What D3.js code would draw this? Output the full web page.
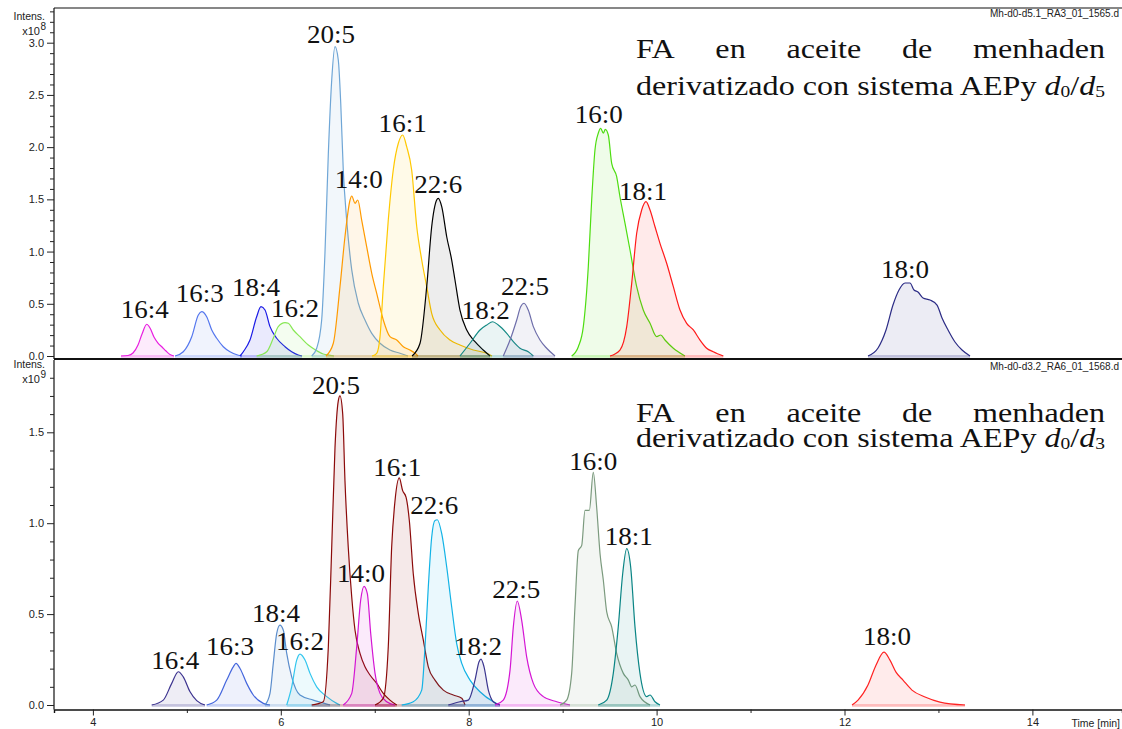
<!DOCTYPE html>
<html>
<head>
<meta charset="utf-8">
<script src="https://cdn.jsdelivr.net/npm/d3@7"></script>
<style>
  html, body { margin: 0; padding: 0; background: #fff; }
  svg { display: block; }
</style>
</head>
<body>
<svg id="chart" width="1122" height="729"></svg>
<script>
// ---- axis ticks -------------------------------------------------------
const timeTicks = [4, 6, 8, 10, 12, 14];
const timeMinorTicks = [5, 7, 9, 11, 13];
const topIntensTicks = [0, 0.5, 1.0, 1.5, 2.0, 2.5, 3.0];
const bottomIntensTicks = [0, 0.5, 1.0, 1.5];

const topFile = "Mh-d0-d5.1_RA3_01_1565.d";
const bottomFile = "Mh-d0-d3.2_RA6_01_1568.d";

// ---- upper chromatogram (AEPy d0/d5), intensity x10^8 -------------------
const topNames = ["16:4", "16:3", "18:4", "16:2", "20:5", "14:0", "16:1", "22:6", "18:2", "22:5", "16:0", "18:1", "18:0"];
const topColors = ["#e81ee0", "#5577ee", "#1a1ae6", "#88e855", "#6fa6d6", "#ff9a00", "#ffc800", "#000000", "#138a84", "#6e6eaa", "#4ddd10", "#ff1a1a", "#2b2b85"];
const topTraces = [
  [[4.299,0],[4.374,0.005],[4.427,0.029],[4.480,0.105],[4.523,0.211],[4.573,0.304],[4.608,0.268],[4.650,0.182],[4.693,0.124],[4.736,0.086],[4.778,0.048],[4.821,0.014],[4.863,0]],
  [[4.874,0],[4.962,0.041],[5.052,0.185],[5.122,0.393],[5.158,0.424],[5.211,0.376],[5.265,0.249],[5.318,0.170],[5.388,0.089],[5.459,0.041],[5.548,0.007],[5.587,0]],
  [[5.566,0],[5.601,0.041],[5.672,0.153],[5.743,0.376],[5.789,0.472],[5.832,0.440],[5.885,0.281],[5.956,0.170],[6.045,0.089],[6.116,0.041],[6.186,0.010],[6.226,0]],
  [[5.743,0],[5.850,0.041],[5.920,0.170],[5.973,0.281],[6.045,0.319],[6.080,0.313],[6.133,0.249],[6.204,0.185],[6.293,0.105],[6.382,0.051],[6.452,0.019],[6.524,0.007],[6.566,0]],
  [[6.329,0],[6.382,0.074],[6.435,0.345],[6.470,0.983],[6.506,1.941],[6.542,2.643],[6.577,2.962],[6.612,2.834],[6.638,2.420],[6.665,1.781],[6.701,1.302],[6.755,0.824],[6.825,0.505],[6.896,0.345],[6.968,0.217],[7.056,0.122],[7.162,0.057],[7.269,0.026],[7.354,0]],
  [[6.481,0],[6.559,0.122],[6.630,0.664],[6.683,1.142],[6.737,1.494],[6.755,1.532],[6.790,1.462],[6.819,1.494],[6.861,1.302],[6.914,1.047],[6.968,0.792],[7.021,0.600],[7.091,0.345],[7.162,0.185],[7.234,0.153],[7.304,0.089],[7.375,0.057],[7.428,0.026],[7.460,0]],
  [[6.971,0],[7.021,0.026],[7.056,0.185],[7.091,0.664],[7.144,1.302],[7.197,1.781],[7.251,2.037],[7.297,2.116],[7.340,2.004],[7.393,1.781],[7.447,1.238],[7.500,0.919],[7.553,0.664],[7.606,0.409],[7.695,0.249],[7.801,0.153],[7.907,0.105],[8.049,0.057],[8.192,0.026],[8.248,0]],
  [[7.397,0],[7.482,0.122],[7.553,0.664],[7.606,1.238],[7.659,1.494],[7.676,1.510],[7.713,1.430],[7.766,1.142],[7.819,0.919],[7.854,0.728],[7.907,0.440],[7.979,0.249],[8.067,0.137],[8.155,0.057],[8.227,0]],
  [[7.907,0],[8.014,0.122],[8.120,0.249],[8.192,0.297],[8.255,0.328],[8.315,0.297],[8.405,0.217],[8.475,0.137],[8.546,0.074],[8.634,0.041],[8.688,0]],
  [[8.368,0],[8.440,0.153],[8.511,0.345],[8.553,0.472],[8.589,0.505],[8.634,0.440],[8.688,0.281],[8.759,0.153],[8.830,0.074],[8.919,0]],
  [[9.096,0],[9.167,0.089],[9.220,0.281],[9.273,0.855],[9.309,1.494],[9.344,1.973],[9.379,2.133],[9.405,2.180],[9.433,2.133],[9.454,2.171],[9.486,2.116],[9.522,1.845],[9.575,1.717],[9.610,1.525],[9.664,1.271],[9.717,1.015],[9.788,0.664],[9.858,0.440],[9.930,0.313],[10.001,0.185],[10.044,0.201],[10.089,0.153],[10.178,0.074],[10.302,0]],
  [[9.504,0],[9.610,0.057],[9.682,0.281],[9.735,0.696],[9.788,1.175],[9.841,1.398],[9.887,1.478],[9.930,1.398],[9.983,1.238],[10.036,1.079],[10.107,0.888],[10.178,0.664],[10.249,0.440],[10.320,0.313],[10.391,0.249],[10.462,0.153],[10.533,0.074],[10.603,0.041],[10.710,0]],
  [[12.250,0],[12.357,0.077],[12.442,0.249],[12.516,0.488],[12.580,0.632],[12.644,0.699],[12.697,0.699],[12.740,0.632],[12.782,0.613],[12.836,0.555],[12.910,0.536],[12.985,0.488],[13.038,0.364],[13.102,0.249],[13.176,0.134],[13.251,0.057],[13.336,0]]
];

// ---- lower chromatogram (AEPy d0/d3), intensity x10^9 -------------------
const bottomNames = ["16:4", "16:3", "18:4", "16:2", "20:5", "14:0", "16:1", "22:6", "18:2", "22:5", "16:0", "18:1", "18:0"];
const bottomColors = ["#3d3490", "#4466dd", "#5b8dcc", "#33c6ee", "#8b0a0a", "#d415d4", "#8b0a0a", "#12b3e6", "#3b358f", "#d415d4", "#7b9a7e", "#0a8585", "#ff2222"];
const bottomTraces = [
  [[4.626,0],[4.749,0.027],[4.839,0.119],[4.909,0.183],[4.962,0.155],[5.034,0.073],[5.105,0.024],[5.193,0]],
  [[5.211,0],[5.318,0.027],[5.424,0.137],[5.494,0.210],[5.523,0.229],[5.566,0.201],[5.637,0.119],[5.707,0.055],[5.814,0.009],[5.885,0]],
  [[5.832,0],[5.885,0.064],[5.920,0.229],[5.956,0.393],[5.991,0.439],[6.027,0.411],[6.063,0.284],[6.116,0.155],[6.204,0.055],[6.346,0.027],[6.489,0.005],[6.524,0]],
  [[6.063,0],[6.116,0.100],[6.169,0.247],[6.204,0.280],[6.258,0.247],[6.311,0.174],[6.382,0.100],[6.489,0.046],[6.595,0.009],[6.630,0]],
  [[6.329,0],[6.452,0.018],[6.506,0.320],[6.542,0.868],[6.577,1.417],[6.612,1.673],[6.630,1.700],[6.659,1.600],[6.683,1.234],[6.718,0.868],[6.755,0.594],[6.790,0.411],[6.843,0.284],[6.896,0.210],[6.949,0.165],[7.021,0.119],[7.091,0.064],[7.162,0.027],[7.234,0]],
  [[6.665,0],[6.755,0.064],[6.808,0.320],[6.850,0.576],[6.886,0.653],[6.921,0.613],[6.957,0.393],[7.003,0.174],[7.056,0.064],[7.127,0.018],[7.216,0]],
  [[7.003,0],[7.091,0.037],[7.144,0.320],[7.180,0.868],[7.216,1.125],[7.261,1.249],[7.297,1.179],[7.333,1.143],[7.368,1.015],[7.410,0.722],[7.464,0.503],[7.517,0.357],[7.570,0.210],[7.641,0.137],[7.730,0.082],[7.836,0.055],[7.926,0.037],[7.961,0]],
  [[7.287,0],[7.410,0.018],[7.500,0.082],[7.535,0.320],[7.570,0.649],[7.606,0.923],[7.641,1.015],[7.666,1.019],[7.713,0.942],[7.766,0.759],[7.819,0.539],[7.872,0.338],[7.926,0.229],[8.014,0.137],[8.120,0.073],[8.262,0.018],[8.333,0]],
  [[7.783,0],[7.907,0.018],[7.996,0.027],[8.067,0.137],[8.110,0.238],[8.131,0.252],[8.163,0.210],[8.209,0.082],[8.262,0.018],[8.333,0]],
  [[8.280,0],[8.368,0.027],[8.440,0.192],[8.475,0.430],[8.517,0.572],[8.564,0.466],[8.617,0.265],[8.688,0.119],[8.794,0.046],[8.937,0.018],[9.078,0]],
  [[8.972,0],[9.043,0.027],[9.096,0.174],[9.131,0.539],[9.167,0.850],[9.203,0.878],[9.238,1.070],[9.284,1.070],[9.326,1.280],[9.362,1.088],[9.398,0.832],[9.433,0.686],[9.469,0.512],[9.522,0.430],[9.575,0.284],[9.646,0.174],[9.699,0.137],[9.735,0.100],[9.770,0.110],[9.823,0.046],[9.930,0]],
  [[9.379,0],[9.469,0.027],[9.539,0.174],[9.592,0.430],[9.639,0.722],[9.682,0.860],[9.724,0.759],[9.770,0.430],[9.823,0.174],[9.895,0.046],[9.930,0.055],[9.983,0.018],[10.036,0]],
  [[12.080,0],[12.144,0.027],[12.250,0.110],[12.335,0.219],[12.420,0.291],[12.484,0.247],[12.548,0.181],[12.623,0.137],[12.718,0.082],[12.857,0.044],[13.016,0.016],[13.283,0]]
];

// ---- layout -----------------------------------------------------------
const plotLeft = 54, plotRight = 1122;
const topPanel = { top: 8, zero: 356, divider: 359 };
const bottomPanel = { top: 360, zero: 705, axis: 709.5 };

// pixel nudges of each peak label from its apex (dx, dy)
const topLabelNudge = [[-2,-6],[-2,-10],[-5,-11],[10,-6],[-4,-4],[7,-8],[0,-3],[0,-5],[-7,-3],[1,-8],[-2,-5],[-3,-2],[0,-5]];
const bottomLabelNudge = [[-3,-3],[-6,-8],[-4,-3],[0,-4],[-4,-2],[-3,-4],[-2,-2],[-3,-6],[-3,-4],[-1,-3],[0,-2],[2,-4],[3,-7]];

const svg = d3.select("#chart");

// time scale: calibrated on the 4 and 14 min ticks, then stretched to the frame
const x0 = d3.scaleLinear().domain([4, 14]).range([92.9, 1032.4]);
const x = d3.scaleLinear()
  .domain([x0.invert(plotLeft), x0.invert(plotRight)])
  .range([plotLeft, plotRight]);

const yTop0 = d3.scaleLinear().domain([0, 3]).range([topPanel.zero, 42.7]);
const yTop = d3.scaleLinear()
  .domain([0, yTop0.invert(topPanel.top)])
  .range([topPanel.zero, topPanel.top]);

const yBot0 = d3.scaleLinear().domain([0, 1.5]).range([bottomPanel.zero, 432.3]);
const yBot = d3.scaleLinear()
  .domain([0, yBot0.invert(bottomPanel.top)])
  .range([bottomPanel.zero, bottomPanel.top]);

const sansFont = "'Liberation Sans', Arial, sans-serif";
const serifFont = "'Liberation Serif', 'Times New Roman', serif";

// ---- traces -----------------------------------------------------------
function drawTraces(g, traces, colors, names, nudges, y) {
  const area = d3.area()
    .x(d => x(d[0])).y0(y(0)).y1(d => y(d[1]))
    .curve(d3.curveMonotoneX);
  const line = d3.line()
    .x(d => x(d[0])).y(d => y(d[1]))
    .curve(d3.curveMonotoneX);

  traces.forEach((tr, i) => {
    const c = colors[i];
    const pg = g.append("g").attr("class", "peak");
    pg.append("path").attr("d", area(tr))
      .attr("fill", c).attr("fill-opacity", c === "#000000" ? 0.07 : 0.09)
      .attr("stroke", "none");
    // faint baseline strip under each trace
    pg.append("line")
      .attr("x1", x(tr[0][0])).attr("x2", x(tr[tr.length - 1][0]))
      .attr("y1", y(0) + 0.5).attr("y2", y(0) + 0.5)
      .attr("stroke", c).attr("stroke-opacity", c === "#000000" ? 0.25 : 0.3)
      .attr("stroke-width", 2.5);
    pg.append("path").attr("d", line(tr))
      .attr("fill", "none").attr("stroke", c)
      .attr("stroke-width", 1.2).attr("stroke-linejoin", "round");
  });

  // peak labels at each apex
  traces.forEach((tr, i) => {
    const apex = tr.reduce((a, b) => (b[1] > a[1] ? b : a));
    const t = g.append("text")
      .attr("x", x(apex[0]) + nudges[i][0])
      .attr("y", y(apex[1]) + nudges[i][1])
      .attr("text-anchor", "middle")
      .attr("font-family", serifFont)
      .attr("font-size", 26)
      .attr("fill", "#111")
      .text(names[i]);
    const w = t.node().getComputedTextLength();
    t.attr("textLength", w * 1.04).attr("lengthAdjust", "spacingAndGlyphs");
  });
}

// ---- y axes -----------------------------------------------------------
function drawYAxis(y, majors, maxVal, exponent, labelTop) {
  const g = svg.append("g").attr("transform", `translate(${plotLeft},0)`);
  const minors = d3.range(0, Math.round(maxVal * 10) + 1).map(v => v / 10)
    .filter(v => !majors.some(m => Math.abs(m - v) < 1e-6));
  g.call(d3.axisLeft(y).tickValues(minors).tickSize(4).tickFormat(""))
    .call(a => a.select(".domain").remove());
  const maj = svg.append("g").attr("transform", `translate(${plotLeft},0)`);
  maj.call(d3.axisLeft(y).tickValues(majors).tickSize(7).tickPadding(3).tickFormat(d3.format(".1f")))
    .call(a => a.select(".domain").remove());
  maj.selectAll("text").attr("font-family", sansFont).attr("font-size", 11).attr("fill", "#222");
  svg.selectAll(".tick line").attr("stroke", "#222");

  svg.append("text").attr("x", 45).attr("y", labelTop)
    .attr("text-anchor", "end").attr("font-family", sansFont).attr("font-size", 10.5)
    .attr("fill", "#222").text("Intens.");
  svg.append("text").attr("x", 40).attr("y", labelTop + 15)
    .attr("text-anchor", "end").attr("font-family", sansFont).attr("font-size", 11)
    .attr("fill", "#222").text("x10");
  svg.append("text").attr("x", 40.5).attr("y", labelTop + 10)
    .attr("font-family", sansFont).attr("font-size", 10)
    .attr("fill", "#222").text(exponent);
}

// ---- panel titles -----------------------------------------------------
function drawTitle(line1Y, line2Y, sub) {
  const left = 636, right = 1105, width = right - left;
  const g = svg.append("g").attr("font-family", serifFont).attr("font-size", 28).attr("fill", "#111");

  // second line sets the horizontal stretch of the whole block
  const t2 = g.append("text").attr("x", left).attr("y", line2Y);
  t2.append("tspan").text("derivatizado con sistema AEPy ");
  t2.append("tspan").attr("font-style", "italic").text("d");
  t2.append("tspan").attr("font-size", 17).attr("dy", 2).text("0");
  t2.append("tspan").attr("dy", -2).text("/");
  t2.append("tspan").attr("font-style", "italic").text("d");
  t2.append("tspan").attr("font-size", 17).attr("dy", 2).text(sub);
  const natural = t2.node().getComputedTextLength();
  const stretch = width / natural;
  t2.attr("textLength", width).attr("lengthAdjust", "spacingAndGlyphs");

  // first line: justified words
  const words = ["FA", "en", "aceite", "de", "menhaden"];
  const nodes = words.map(w => g.append("text").attr("y", line1Y).text(w));
  const widths = nodes.map(n => n.node().getComputedTextLength() * stretch);
  const gap = (width - d3.sum(widths)) / (words.length - 1);
  let cx = left;
  nodes.forEach((n, i) => {
    n.attr("x", cx).attr("textLength", widths[i]).attr("lengthAdjust", "spacingAndGlyphs");
    cx += widths[i] + gap;
  });
}

// ---- drawing ----------------------------------------------------------
const gTop = svg.append("g");
drawTraces(gTop, topTraces, topColors, topNames, topLabelNudge, yTop);
const gBot = svg.append("g");
drawTraces(gBot, bottomTraces, bottomColors, bottomNames, bottomLabelNudge, yBot);

const frame = svg.append("g").attr("stroke", "#111").attr("fill", "none");
frame.append("line").attr("x1", plotLeft).attr("x2", plotRight)
  .attr("y1", topPanel.top).attr("y2", topPanel.top).attr("stroke-width", 1.2);
frame.append("line").attr("x1", plotLeft).attr("x2", plotLeft)
  .attr("y1", topPanel.top).attr("y2", topPanel.divider).attr("stroke-width", 1.2);
frame.append("line").attr("x1", plotLeft).attr("x2", plotRight)
  .attr("y1", topPanel.divider).attr("y2", topPanel.divider).attr("stroke-width", 2.2);
frame.append("line").attr("x1", plotLeft).attr("x2", plotLeft)
  .attr("y1", bottomPanel.top).attr("y2", bottomPanel.axis).attr("stroke-width", 1.2);

drawYAxis(yTop, topIntensTicks, 3.3, "8", 20);
drawYAxis(yBot, bottomIntensTicks, 1.8, "9", 368);

// time axis
const xAxisG = svg.append("g").attr("transform", `translate(0,${bottomPanel.axis})`);
xAxisG.call(d3.axisBottom(x).tickValues(timeMinorTicks).tickSize(3.5).tickFormat(""));
xAxisG.append("g").call(d3.axisBottom(x).tickValues(timeTicks).tickSize(6).tickPadding(3).tickFormat(d3.format("d")))
  .call(a => a.select(".domain").remove());
xAxisG.selectAll(".domain").attr("stroke", "#111").attr("stroke-width", 1.4);
xAxisG.selectAll(".tick line").attr("stroke", "#222");
xAxisG.selectAll("text").attr("font-family", sansFont).attr("font-size", 11).attr("fill", "#222");
svg.append("text").attr("x", 1120).attr("y", 727).attr("text-anchor", "end")
  .attr("font-family", sansFont).attr("font-size", 10.5).attr("fill", "#222").text("Time [min]");

// file names
svg.append("text").attr("x", 1119).attr("y", 17).attr("text-anchor", "end")
  .attr("font-family", sansFont).attr("font-size", 10).attr("fill", "#222").text(topFile);
svg.append("text").attr("x", 1119).attr("y", 370).attr("text-anchor", "end")
  .attr("font-family", sansFont).attr("font-size", 10).attr("fill", "#222").text(bottomFile);

drawTitle(58, 95, "5");
drawTitle(422, 447, "3");
</script>
</body>
</html>
